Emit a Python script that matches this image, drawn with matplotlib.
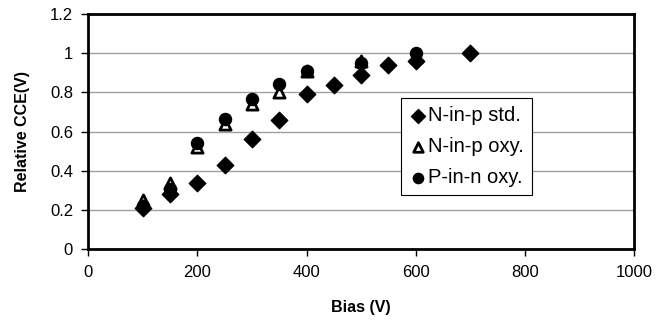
import matplotlib
matplotlib.use("Agg")
import matplotlib.pyplot as plt

plt.rcParams['font.family'] = ['Liberation Sans', 'DejaVu Sans']

# N-in-p standard
bias_std = [100, 150, 200, 250, 300, 350, 400, 450, 500, 550, 600, 700]
cce_std = [0.21, 0.28, 0.34, 0.43, 0.56, 0.66, 0.79, 0.84, 0.89, 0.94, 0.96, 1.0]

# N-in-p oxygenated
bias_noxy = [100, 150, 200, 250, 300, 350, 400, 500, 600]
cce_noxy = [0.25, 0.34, 0.52, 0.64, 0.74, 0.80, 0.91, 0.96, 0.98]

# P-in-n oxygenated
bias_poxy = [100, 150, 200, 250, 300, 350, 400, 500, 600]
cce_poxy = [0.22, 0.31, 0.54, 0.665, 0.765, 0.845, 0.91, 0.95, 1.0]

fig = plt.figure(figsize=(6.57, 3.30), dpi=100)
ax = fig.add_axes([0.1344, 0.2445, 0.8306, 0.7131])

ax.scatter(bias_noxy, cce_noxy, marker='^', s=65, facecolor='white',
           edgecolor='black', linewidth=2, label='N-in-p oxy.', zorder=3)
ax.scatter(bias_poxy, cce_poxy, marker='o', s=75, color='black',
           label='P-in-n oxy.', zorder=4)
ax.scatter(bias_std, cce_std, marker='D', s=70, color='black',
           label='N-in-p std.', zorder=5)

ax.set_xlim(0, 1000)
ax.set_ylim(0, 1.2)
ax.set_xticks([0, 200, 400, 600, 800, 1000])
ax.set_yticks([0, 0.2, 0.4, 0.6, 0.8, 1.0, 1.2])
ax.set_yticklabels(['0', '0.2', '0.4', '0.6', '0.8', '1', '1.2'])
ax.tick_params(labelsize=12, direction='out', length=5, width=1, pad=6)
ax.yaxis.grid(True, color='#a0a0a0', linewidth=1)
ax.set_axisbelow(True)
for sp in ax.spines.values():
    sp.set_linewidth(2)

ax.set_xlabel('Bias (V)', fontsize=11.5, fontweight='bold', labelpad=15)
ax.set_ylabel('Relative CCE(V)', fontsize=11.5, fontweight='bold', labelpad=14)

# legend order: std, N oxy, P oxy
h, l = ax.get_legend_handles_labels()
order = [2, 0, 1]
leg = ax.legend([h[i] for i in order], [l[i] for i in order],
                loc='upper left', bbox_to_anchor=(0.573, 0.643),
                fontsize=14.5, fancybox=False, edgecolor='black',
                framealpha=1, handletextpad=0.05, handlelength=0.9,
                borderpad=0.4, labelspacing=0.6, borderaxespad=0,
                markerscale=0.85)
leg.get_frame().set_linewidth(0.8)

fig.savefig('out.png', dpi=100)
